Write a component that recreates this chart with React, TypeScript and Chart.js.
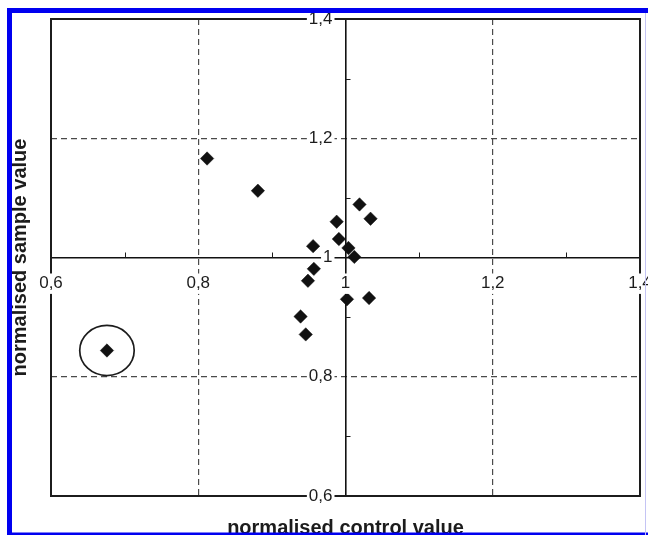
import React, { useEffect, useRef } from "react";
import { Chart, registerables } from "chart.js";

Chart.register(...registerables);

// Normalised control (x) and sample (y) values, one pair per measurement
const controlValues = [
  0.812, 0.881, 1.019, 1.034, 0.988, 0.991, 0.956, 1.004, 1.012, 0.957, 0.949,
  1.002, 1.032, 0.939, 0.946, 0.676,
];
const sampleValues = [
  1.166, 1.112, 1.089, 1.065, 1.06, 1.031, 1.019, 1.016, 1.001, 0.981, 0.961,
  0.93, 0.932, 0.901, 0.871, 0.844,
];
// Measurement that is ringed as an outlier
const circledIndex = 15;
// Half-extent of the ring, in axis units
const ringRadiusX = 0.037;
const ringRadiusY = 0.042;

// Axis range and tick layout (same for both axes)
const axisMin = 0.6;
const axisMax = 1.4;
const axisStep = 0.2;
const dashedGridValues = [0.8, 1.2];
const minorTickValues = [0.7, 0.9, 1.1, 1.3];

const xTitle = "normalised control value";
const yTitle = "normalised sample value";

const FONT = "'Liberation Sans', Arial, Helvetica, sans-serif";
const INK = "#1c1c1c";

const fmt = (v: number) => String(Math.round(v * 10) / 10).replace(".", ",");
const round1 = (v: number) => Math.round(v * 10) / 10;

const gridColor = (ctx: any) => {
  const v = ctx && ctx.tick ? round1(ctx.tick.value) : NaN;
  return dashedGridValues.includes(v) ? "#4a4a4a" : "rgba(0,0,0,0)";
};

const zeroPadding = (scale: any) => {
  scale.paddingLeft = 0;
  scale.paddingRight = 0;
  scale.paddingTop = 0;
  scale.paddingBottom = 0;
};

const decorPlugin = {
  id: "decor",
  beforeDatasetsDraw(chart: any) {
    const { ctx, chartArea: a, scales } = chart;
    const xs = scales.x;
    const ys = scales.y;
    ctx.save();
    // plot frame
    ctx.strokeStyle = INK;
    ctx.lineWidth = 2;
    ctx.strokeRect(a.left, a.top, a.right - a.left, a.bottom - a.top);
    // minor ticks on the centre axes
    ctx.lineWidth = 1;
    const yAxisPx = ys.getPixelForValue(1);
    const xAxisPx = xs.getPixelForValue(1);
    for (const v of minorTickValues) {
      const px = Math.round(xs.getPixelForValue(v)) + 0.5;
      ctx.beginPath();
      ctx.moveTo(px, yAxisPx);
      ctx.lineTo(px, yAxisPx - 5);
      ctx.stroke();
      const py = Math.round(ys.getPixelForValue(v)) + 0.5;
      ctx.beginPath();
      ctx.moveTo(xAxisPx, py);
      ctx.lineTo(xAxisPx + 5, py);
      ctx.stroke();
    }
    ctx.restore();
  },
  afterDatasetsDraw(chart: any) {
    const { ctx, scales } = chart;
    const xs = scales.x;
    const ys = scales.y;
    const cx = xs.getPixelForValue(controlValues[circledIndex]);
    const cy = ys.getPixelForValue(sampleValues[circledIndex]);
    const rx = Math.abs(
      xs.getPixelForValue(controlValues[circledIndex] + ringRadiusX) - cx
    );
    const ry = Math.abs(
      ys.getPixelForValue(sampleValues[circledIndex] + ringRadiusY) - cy
    );
    ctx.save();
    ctx.strokeStyle = INK;
    ctx.lineWidth = 1.7;
    ctx.beginPath();
    ctx.ellipse(cx, cy, rx, ry, 0, 0, Math.PI * 2);
    ctx.stroke();
    ctx.restore();
  },
  afterDraw(chart: any) {
    const { ctx, chartArea: a, width, height } = chart;
    ctx.save();
    ctx.fillStyle = INK;
    ctx.font = `bold 20px ${FONT}`;
    ctx.textAlign = "center";
    ctx.textBaseline = "alphabetic";
    // x title
    ctx.fillText(xTitle, (a.left + a.right) / 2, height - 1.5);
    // y title
    ctx.save();
    ctx.translate(26, (a.top + a.bottom) / 2);
    ctx.rotate(-Math.PI / 2);
    ctx.fillText(yTitle, 0, 0);
    ctx.restore();
    // blue page frame
    ctx.fillStyle = "#0000f0";
    ctx.fillRect(7, 8, 5, height - 8);
    ctx.fillRect(7, 8, width - 7, 5);
    ctx.fillRect(7, height - 2.5, width - 7, 3);
    ctx.fillStyle = "#c4c4f4";
    ctx.fillRect(645, 13, 1, height - 13);
    ctx.restore();
  },
};

export default function App() {
  const canvasRef = useRef<HTMLCanvasElement | null>(null);

  useEffect(() => {
    const canvas = canvasRef.current;
    if (!canvas) return;

    const points = controlValues.map((x, i) => ({ x, y: sampleValues[i] }));

    const tickFont = { family: FONT, size: 17 };

    const chart = new Chart(canvas, {
      type: "scatter",
      data: {
        datasets: [
          {
            data: points,
            pointStyle: "rectRot",
            pointRadius: 6.7,
            pointHoverRadius: 6.7,
            backgroundColor: "#111",
            borderColor: "#111",
            borderWidth: 0.5,
          },
        ],
      },
      options: {
        animation: false,
        responsive: false,
        devicePixelRatio: 1,
        layout: { padding: { left: 51, top: 19, right: 8, bottom: 39 } },
        plugins: {
          legend: { display: false },
          tooltip: { enabled: false },
        },
        events: [],
        scales: {
          x: {
            type: "linear",
            position: "center",
            min: axisMin,
            max: axisMax,
            afterFit: zeroPadding,
            ticks: {
              stepSize: axisStep,
              autoSkip: false,
              maxRotation: 0,
              callback: (v: any) => fmt(Number(v)),
              font: tickFont,
              color: INK,
              padding: 16,
              showLabelBackdrop: true,
              backdropColor: "#ffffff",
              backdropPadding: { top: 0, bottom: 0, left: 2, right: 2 },
              z: 1,
            },
            grid: { color: gridColor, lineWidth: 1.2, drawTicks: false },
            border: { display: true, color: "#111", width: 1.6, dash: [6, 4] },
          },
          y: {
            type: "linear",
            position: "center",
            min: axisMin,
            max: axisMax,
            afterFit: zeroPadding,
            ticks: {
              stepSize: axisStep,
              autoSkip: false,
              callback: (v: any) => fmt(Number(v)),
              font: tickFont,
              color: INK,
              padding: 13,
              showLabelBackdrop: true,
              backdropColor: "#ffffff",
              backdropPadding: { top: 0, bottom: 0, left: 2, right: 2 },
              z: 1,
            },
            grid: { color: gridColor, lineWidth: 1.2, drawTicks: false },
            border: { display: true, color: "#111", width: 1.6, dash: [6, 4] },
          },
        },
      },
      plugins: [decorPlugin],
    } as any);

    return () => chart.destroy();
  }, []);

  return (
    <div
      style={{
        position: "absolute",
        left: 0,
        top: 0,
        width: 648,
        height: 535,
        background: "#fff",
      }}
    >
      <canvas
        ref={canvasRef}
        width={648}
        height={535}
        style={{ display: "block", width: 648, height: 535 }}
      />
    </div>
  );
}
